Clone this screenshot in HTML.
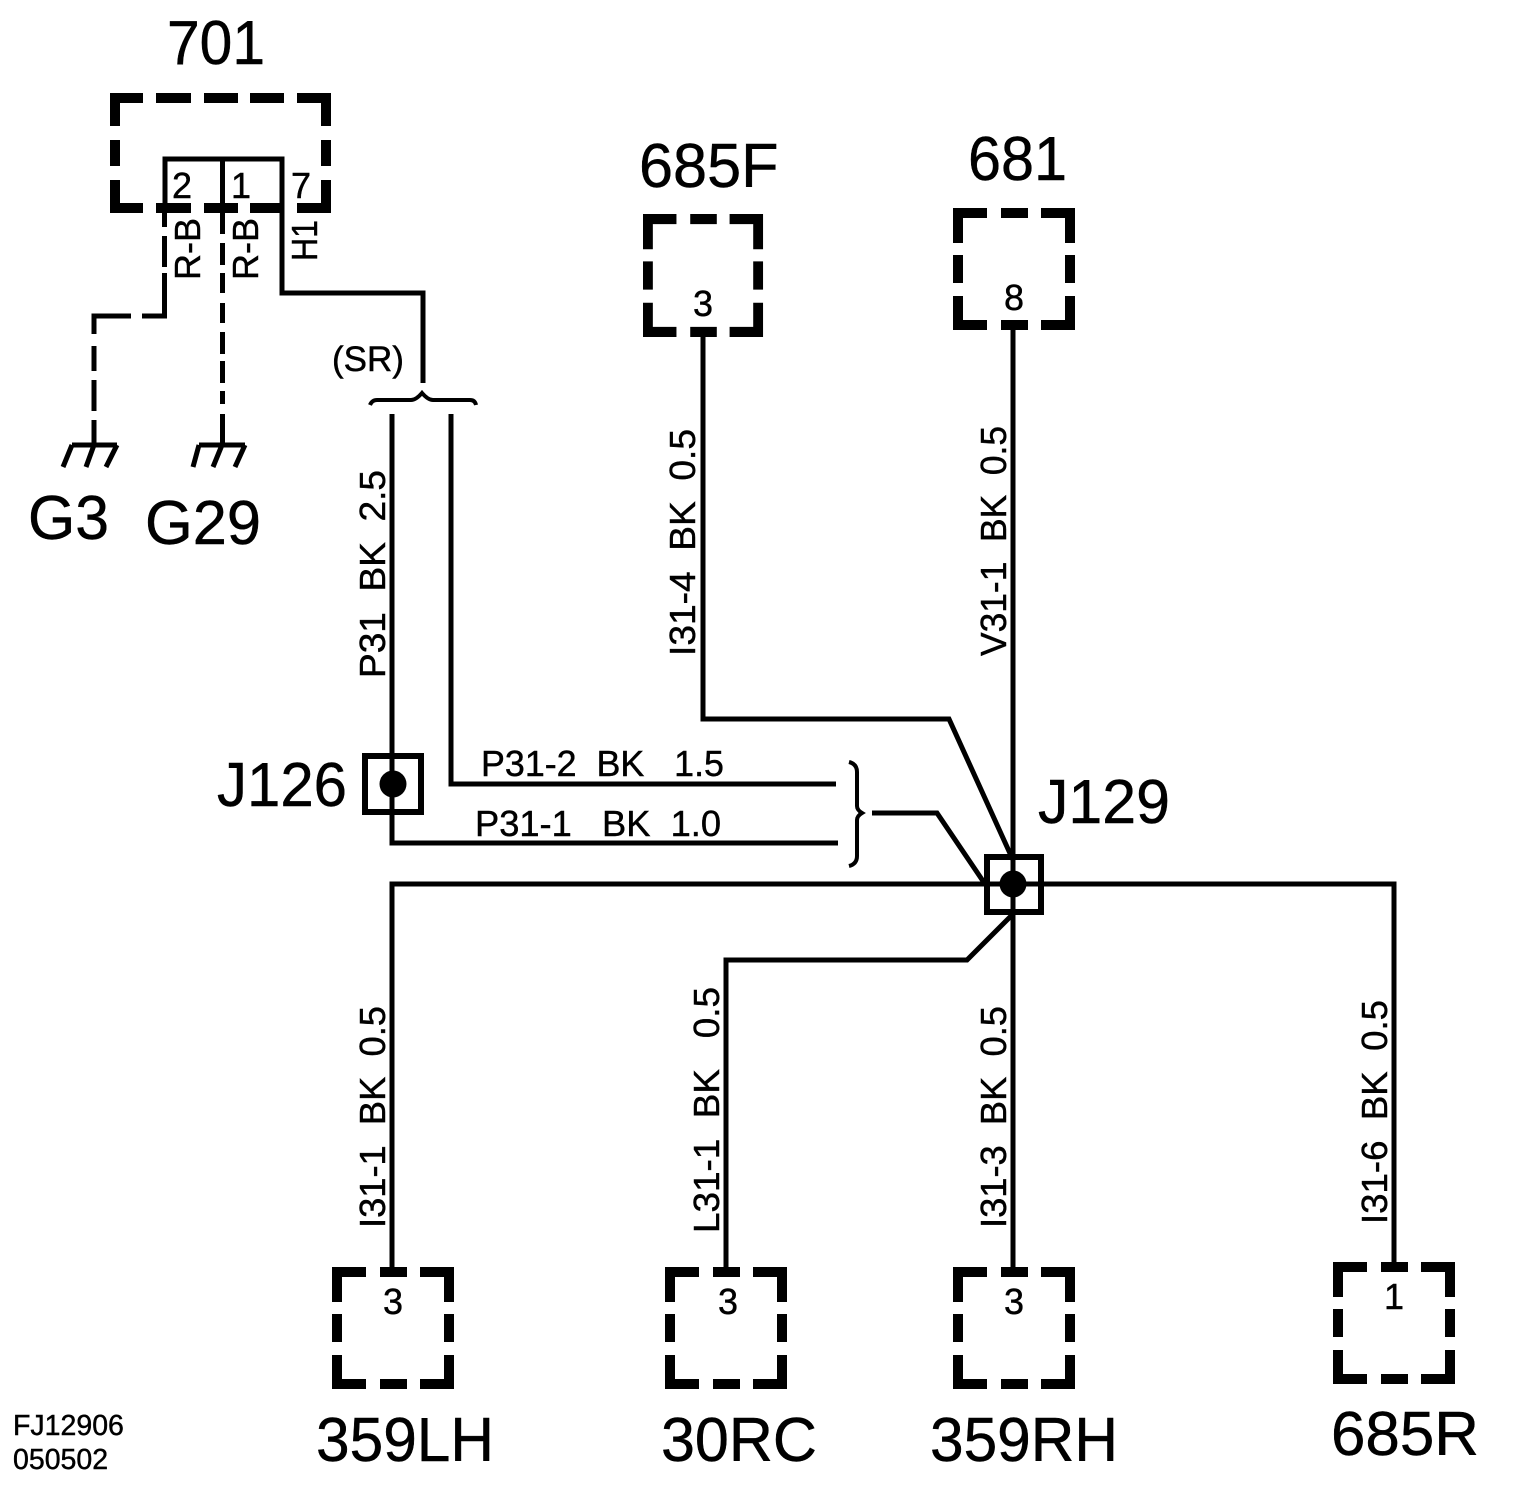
<!DOCTYPE html>
<html><head><meta charset="utf-8"><title>Wiring diagram</title>
<style>html,body{margin:0;padding:0;background:#fff}svg{display:block}text{font-family:"Liberation Sans",sans-serif;fill:#000;stroke:#000;stroke-width:.45px;white-space:pre}</style></head>
<body>
<svg width="1520" height="1496" viewBox="0 0 1520 1496" xmlns="http://www.w3.org/2000/svg">
<defs>
<path id="b" fill="none" stroke="#000" stroke-width="10" d="M5 35V5H34M48 5H75M88 5H117V35M117 47V75M117 88V117H88M75 117H48M34 117H5V88M5 75V47"/>
</defs>
<rect width="1520" height="1496" fill="#fff"/>
<!-- 701 -->
<path fill="none" stroke="#000" stroke-width="10" d="M115 126V98H143M156 98H191M204 98H238M250 98H284M297 98H326V126M326 140V166M326 180V208H297M284 208H250M238 208H204M191 208H156M143 208H115V180M115 166V140"/>
<g fill="none" stroke="#000" stroke-width="5">
<path d="M165 213V159H282V293H423V383"/>
<path d="M222.500 159V213"/>
<path d="M164.500 213V227M164.500 236V267M164.500 273V316H142M131 316H94V334M94 346V371M94 380V411M94 420V445"/>
<path d="M222.500 213V234M222.500 243V265M222.500 273V293M222.500 303V323M222.500 332V354M222.500 361V383M222.500 391V404M222.500 414V445"/>
<!-- grounds -->
<path d="M72 445H117M117 445L106 467M94 445L86 467M72 445L63 467"/>
<path d="M199 445H245M245 445L235 467M222 445L213 467M199 445L193 467"/>
<!-- SR brace -->
<path stroke-width="4" d="M370 405Q372 400 377 400H411Q416 400 422 393Q428 400 433 400H470Q475 400 476 405"/>
<!-- wires -->
<path d="M392 414V843H838"/>
<path d="M451 414V784H836"/>
<path d="M703 335V719H949L1013 860"/>
<path d="M1013 330V1267"/>
<path d="M392 1267V884H1394V1262"/>
<path d="M726 1267V960H967L1013 914"/>
<path d="M872 813H937L985 884"/>
<!-- right brace -->
<path stroke-width="4" d="M849 762Q857 764 857 772V806Q857 810 862 813Q857 816 857 820V856Q857 864 849 866"/>
<!-- junctions -->
<rect x="365" y="756" width="56" height="56" stroke-width="6"/>
<rect x="987" y="857" width="54" height="55" stroke-width="6"/>
</g>
<ellipse cx="393" cy="784" rx="13.500" ry="13.500"/>
<ellipse cx="1013" cy="884" rx="13.500" ry="13.500"/>
<!-- connector boxes -->
<use href="#b" transform="translate(643,214) scale(.984,1.008)"/>
<use href="#b" x="953" y="208"/>
<use href="#b" x="332" y="1267"/>
<use href="#b" x="665" y="1267"/>
<use href="#b" x="953" y="1267"/>
<use href="#b" x="1333" y="1262"/>
<!-- pin numbers -->
<g font-size="36" text-anchor="middle">
<text x="182" y="198">2</text><text x="241" y="198">1</text><text x="301" y="198">7</text>
<text x="703" y="316">3</text><text x="1014" y="310">8</text>
<text x="393" y="1314">3</text><text x="728" y="1314">3</text><text x="1014" y="1314">3</text><text x="1394" y="1309">1</text>
</g>
<!-- large labels -->
<g font-size="62">
<text x="167" y="64" textLength="98" lengthAdjust="spacingAndGlyphs">701</text>
<text x="639" y="187" textLength="139.500" lengthAdjust="spacingAndGlyphs">685F</text>
<text x="968" y="180" textLength="99" lengthAdjust="spacingAndGlyphs">681</text>
<text x="28" y="539" textLength="81" lengthAdjust="spacingAndGlyphs">G3</text>
<text x="145" y="544" textLength="116" lengthAdjust="spacingAndGlyphs">G29</text>
<text x="217" y="806" textLength="130" lengthAdjust="spacingAndGlyphs">J126</text>
<text x="1038" y="823" textLength="132" lengthAdjust="spacingAndGlyphs">J129</text>
<text x="316" y="1461" textLength="178" lengthAdjust="spacingAndGlyphs">359LH</text>
<text x="661" y="1461" textLength="156" lengthAdjust="spacingAndGlyphs">30RC</text>
<text x="930" y="1461" textLength="188" lengthAdjust="spacingAndGlyphs">359RH</text>
<text x="1331" y="1455" textLength="148" lengthAdjust="spacingAndGlyphs">685R</text>
</g>
<text x="332" y="371" font-size="35">(SR)</text>
<!-- horizontal wire labels -->
<g font-size="36">
<text x="481" y="776" textLength="243" lengthAdjust="spacingAndGlyphs">P31-2  BK   1.5</text>
<text x="475" y="836" textLength="246" lengthAdjust="spacingAndGlyphs">P31-1   BK  1.0</text>
</g>
<!-- vertical wire labels -->
<g font-size="36">
<text transform="translate(200,280) rotate(-90)" textLength="62" lengthAdjust="spacingAndGlyphs">R-B</text>
<text transform="translate(258,280) rotate(-90)" textLength="62" lengthAdjust="spacingAndGlyphs">R-B</text>
<text transform="translate(317,261) rotate(-90)" textLength="41" lengthAdjust="spacingAndGlyphs">H1</text>
<text transform="translate(385,678) rotate(-90)" textLength="208" lengthAdjust="spacingAndGlyphs">P31  BK  2.5</text>
<text transform="translate(695,656) rotate(-90)" textLength="227" lengthAdjust="spacingAndGlyphs">I31-4  BK  0.5</text>
<text transform="translate(1006,656) rotate(-90)" textLength="230" lengthAdjust="spacingAndGlyphs">V31-1  BK  0.5</text>
<text transform="translate(385,1228) rotate(-90)" textLength="222" lengthAdjust="spacingAndGlyphs">I31-1  BK  0.5</text>
<text transform="translate(719,1233) rotate(-90)" textLength="246" lengthAdjust="spacingAndGlyphs">L31-1  BK   0.5</text>
<text transform="translate(1006,1228) rotate(-90)" textLength="222" lengthAdjust="spacingAndGlyphs">I31-3  BK  0.5</text>
<text transform="translate(1387,1224) rotate(-90)" textLength="224" lengthAdjust="spacingAndGlyphs">I31-6  BK  0.5</text>
</g>
<!-- ref -->
<text x="13" y="1435" font-size="28.500">FJ12906</text>
<text x="13" y="1469" font-size="28.500">050502</text>
</svg>
</body></html>
